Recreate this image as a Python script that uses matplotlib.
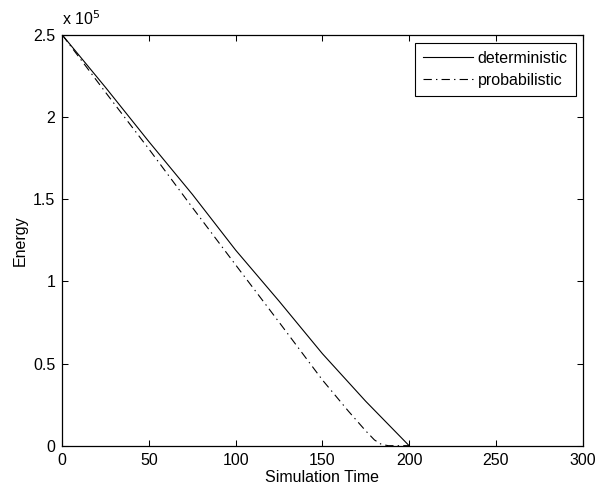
import matplotlib
matplotlib.use("Agg")
import matplotlib.pyplot as plt
from matplotlib.ticker import FuncFormatter, MultipleLocator

plt.rcParams['font.family'] = ['Liberation Sans', 'DejaVu Sans']
plt.rcParams['lines.scale_dashes'] = False

# Data (energy in absolute units)
time_det = [0, 25, 50, 75, 100, 125, 150, 175, 200]
energy_det = [250000, 218000, 185000, 153000, 119000, 88000, 56000, 27000, 0]

time_prob = [0, 25, 50, 75, 100, 125, 150, 165, 175, 180, 184, 188, 200]
energy_prob = [250000, 215000, 180500, 145000, 110000, 75200, 40000, 21000, 9000, 3500, 800, 0, 0]

labels = ['deterministic', 'probabilistic']
xticks = [0, 50, 100, 150, 200, 250, 300]

fig = plt.figure(figsize=(5.98, 4.91), dpi=100)
ax = fig.add_axes([0.1042, 0.0923, 0.8699, 0.8364])

ax.plot(time_det, energy_det, color='black', lw=0.8, linestyle='-', label=labels[0])
ax.plot(time_prob, energy_prob, color='black', lw=0.8, linestyle=(0, (6, 3, 1, 3)), label=labels[1])

ax.set_xlim(0, 300)
ax.set_ylim(0, 250000)
ax.set_xticks(xticks)
ax.yaxis.set_major_locator(MultipleLocator(50000))
ax.yaxis.set_major_formatter(FuncFormatter(lambda v, p: '%g' % (v / 1e5)))

ax.tick_params(direction='in', length=4, width=0.75, top=True, right=True,
               labelsize=11.5)
ax.tick_params(axis='x', pad=5)
ax.tick_params(axis='y', pad=5)
for s in ax.spines.values():
    s.set_linewidth(0.9)

ax.set_xlabel('Simulation Time', fontsize=11.5, labelpad=2)
ax.set_ylabel('Energy', fontsize=11.5)
ax.yaxis.set_label_coords(-0.066, 0.5)
ax.text(0.0, 1.018, r'x 10$^{5}$', transform=ax.transAxes, fontsize=11.5,
        ha='left', va='bottom')

leg = ax.legend(loc='upper right', bbox_to_anchor=(0.987, 0.981), fontsize=11.5,
                frameon=True, fancybox=False, edgecolor='black', framealpha=1,
                handlelength=3.1, handletextpad=0.3, borderaxespad=0,
                borderpad=0.5, labelspacing=0.45)
leg.get_frame().set_linewidth(0.8)

fig.savefig('out.png', dpi=100)
